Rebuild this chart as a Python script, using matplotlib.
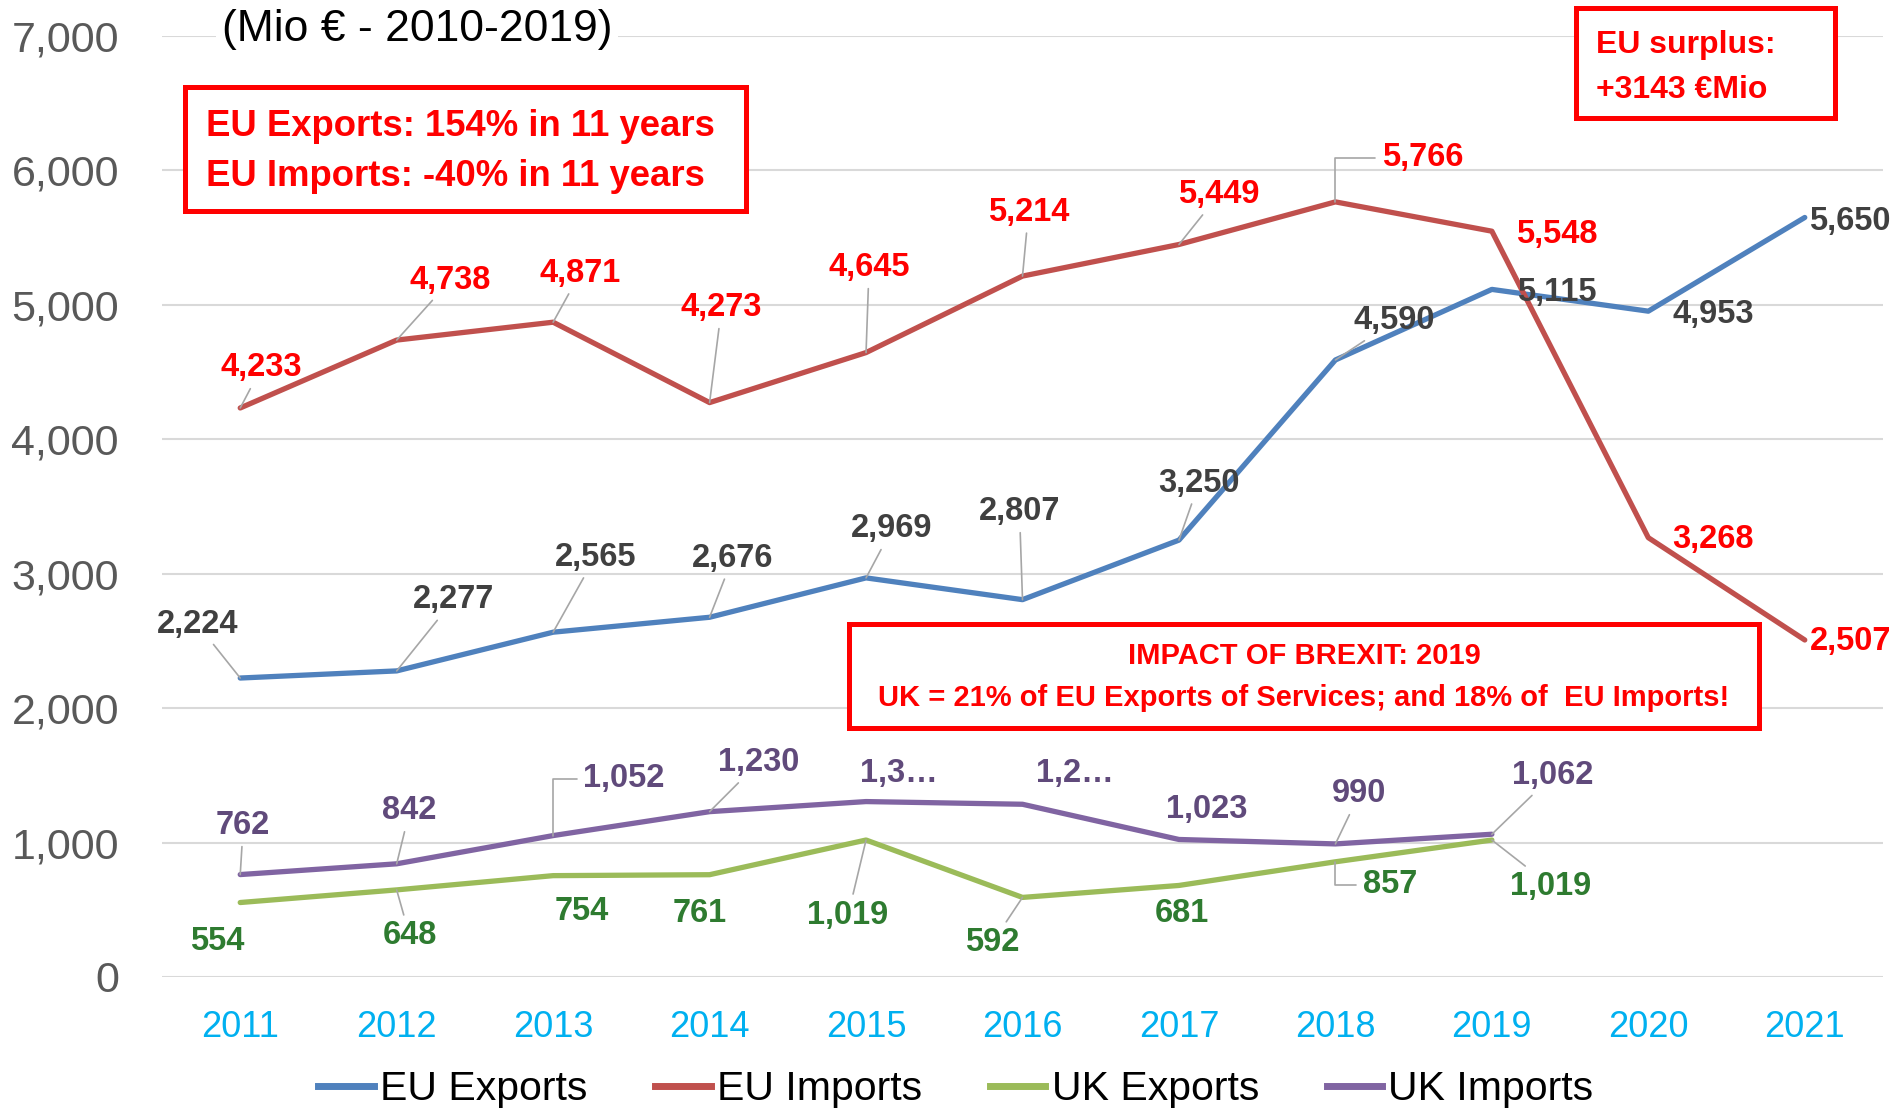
import matplotlib
matplotlib.use("Agg")
import matplotlib.pyplot as plt
from matplotlib.patches import Rectangle
from matplotlib.lines import Line2D

plt.rcParams['font.family'] = ['Liberation Sans', 'DejaVu Sans']

# ---------------- data ----------------
years = ["2011", "2012", "2013", "2014", "2015", "2016", "2017", "2018", "2019", "2020", "2021"]
eu_exports = [2224, 2277, 2565, 2676, 2969, 2807, 3250, 4590, 5115, 4953, 5650]
eu_imports = [4233, 4738, 4871, 4273, 4645, 5214, 5449, 5766, 5548, 3268, 2507]
uk_exports = [554, 648, 754, 761, 1019, 592, 681, 857, 1019]
uk_imports = [762, 842, 1052, 1230, 1305, 1285, 1023, 990, 1062]
uk_imports_labels = ["762", "842", "1,052", "1,230", "1,3…", "1,2…", "1,023", "990", "1,062"]
y_ticks = [0, 1000, 2000, 3000, 4000, 5000, 6000, 7000]
series_names = ["EU Exports", "EU Imports", "UK Exports", "UK Imports"]

# ---------------- style ----------------
line_colors = ["#4F81BD", "#C0504D", "#9BBB59", "#8064A2"]
label_colors = ["#404040", "#FF0000", "#2E7B30", "#604A7B"]

# label offsets (pixels, x right / y up) and leader-line flags
off_eu_exp = [(-43, 54), (57, 71), (42, 75), (23, 59), (26, 49), (-3, 88), (20, 57), (59, 39), (65, -3), (65, -3), (45, -4)]
lead_eu_exp = [1, 1, 1, 1, 1, 1, 1, 1, 0, 0, 0]
off_eu_imp = [(21, 40), (54, 60), (27, 49), (12, 95), (3, 85), (6, 64), (40, 50), (87, 44), (65, -3), (65, -2), (46, -2)]
lead_eu_imp = [1, 1, 1, 1, 1, 1, 1, 2, 0, 0, 0]
off_uk_exp = [(-23, -39), (13, -46), (29, -36), (-10, -39), (-18, -75), (-30, -45), (3, -28), (55, -23), (59, -46)]
lead_uk_exp = [0, 1, 0, 0, 1, 1, 0, 2, 1]
off_uk_imp = [(3, 49), (13, 53), (71, 57), (49, 49), (33, 28), (52, 31), (28, 30), (24, 50), (61, 59)]
lead_uk_imp = [1, 1, 2, 1, 0, 0, 0, 1, 1]

W, H = 1893, 1109
fig = plt.figure(figsize=(W / 100, H / 100), dpi=100)
ax = fig.add_axes([162 / W, 1 - 977 / H, 1721 / W, 941 / H])

x_all = list(range(len(years)))
lw = 3.8
ax.plot(x_all[:len(eu_exports)], eu_exports, color=line_colors[0], lw=lw, solid_capstyle='round', zorder=3)
ax.plot(x_all[:len(eu_imports)], eu_imports, color=line_colors[1], lw=lw, solid_capstyle='round', zorder=3)
ax.plot(x_all[:len(uk_exports)], uk_exports, color=line_colors[2], lw=lw, solid_capstyle='round', zorder=3)
ax.plot(x_all[:len(uk_imports)], uk_imports, color=line_colors[3], lw=lw, solid_capstyle='round', zorder=3)

ax.set_xlim(-0.5, len(years) - 0.5)
ax.set_ylim(0, 7000)
ax.set_yticks(y_ticks)
ax.set_yticklabels([f"{v:,}" for v in y_ticks])
ax.set_xticks(x_all)
ax.set_xticklabels(years)
ax.tick_params(axis='y', length=0, pad=31, labelsize=31, labelcolor="#595959")
ax.tick_params(axis='x', length=0, pad=24, labelsize=26, labelcolor="#00B0F0")
for s in ax.spines.values():
    s.set_visible(False)
ax.yaxis.grid(True, color="#D9D9D9", lw=1.5, zorder=0)
ax.set_axisbelow(True)


def label_series(vals, texts, offs, leads, color):
    for i, v in enumerate(vals):
        dx, dy = offs[i]
        ap = None
        if leads[i] == 1:
            ap = dict(arrowstyle='-', color="#A6A6A6", lw=1.2, shrinkA=2, shrinkB=0)
        elif leads[i] == 2:
            ap = dict(arrowstyle='-', color="#A6A6A6", lw=1.2, shrinkA=3, shrinkB=0,
                      connectionstyle="angle,angleA=0,angleB=90,rad=0")
        ax.annotate(texts[i], xy=(i, v), xytext=(dx, dy), textcoords='offset pixels',
                    ha='center', va='center', fontsize=23.5, fontweight='bold',
                    color=color, arrowprops=ap, zorder=5, annotation_clip=False)


label_series(eu_exports, [f"{v:,}" for v in eu_exports], off_eu_exp, lead_eu_exp, label_colors[0])
label_series(eu_imports, [f"{v:,}" for v in eu_imports], off_eu_imp, lead_eu_imp, label_colors[1])
label_series(uk_exports, [f"{v:,}" for v in uk_exports], off_uk_exp, lead_uk_exp, label_colors[2])
label_series(uk_imports, uk_imports_labels, off_uk_imp, lead_uk_imp, label_colors[3])

# title
fig.text(417 / W, 1 - 29 / H, "(Mio € - 2010-2019)", ha='center', va='center', fontsize=32,
         color='black', bbox=dict(facecolor='white', edgecolor='none', pad=4))


def red_box(x0, y0, x1, y1):
    r = Rectangle((x0 / W, 1 - y1 / H), (x1 - x0) / W, (y1 - y0) / H, transform=fig.transFigure,
                  facecolor='white', edgecolor='#FF0000', lw=3.6, zorder=6)
    fig.add_artist(r)


red_box(185, 87, 746, 211)
fig.text(206 / W, 1 - 126 / H, "EU Exports: 154% in 11 years", ha='left', va='center',
         fontsize=26.3, fontweight='bold', color='#FF0000', zorder=7)
fig.text(206 / W, 1 - 177 / H, "EU Imports: -40% in 11 years", ha='left', va='center',
         fontsize=26.3, fontweight='bold', color='#FF0000', zorder=7)

red_box(1576, 8, 1835, 118)
fig.text(1596 / W, 1 - 45 / H, "EU surplus:", ha='left', va='center',
         fontsize=23, fontweight='bold', color='#FF0000', zorder=7)
fig.text(1596 / W, 1 - 90 / H, "+3143 €Mio", ha='left', va='center',
         fontsize=23, fontweight='bold', color='#FF0000', zorder=7)

red_box(849, 624, 1759, 728)
fig.text(1304 / W, 1 - 656 / H, "IMPACT OF BREXIT: 2019", ha='center', va='center',
         fontsize=21, fontweight='bold', color='#FF0000', zorder=7)
fig.text(1304 / W, 1 - 698 / H, "UK = 21% of EU Exports of Services; and 18% of  EU Imports!",
         ha='center', va='center', fontsize=21, fontweight='bold', color='#FF0000', zorder=7)

handles = [Line2D([0], [0], color=c, lw=5) for c in line_colors]
fig.legend(handles, series_names, loc='center', bbox_to_anchor=(0.505, 1 - 1089 / H), ncol=4,
           frameon=False, fontsize=29.5, handlelength=1.36, handletextpad=0.15, columnspacing=1.65)

fig.savefig("out.png", dpi=100)
